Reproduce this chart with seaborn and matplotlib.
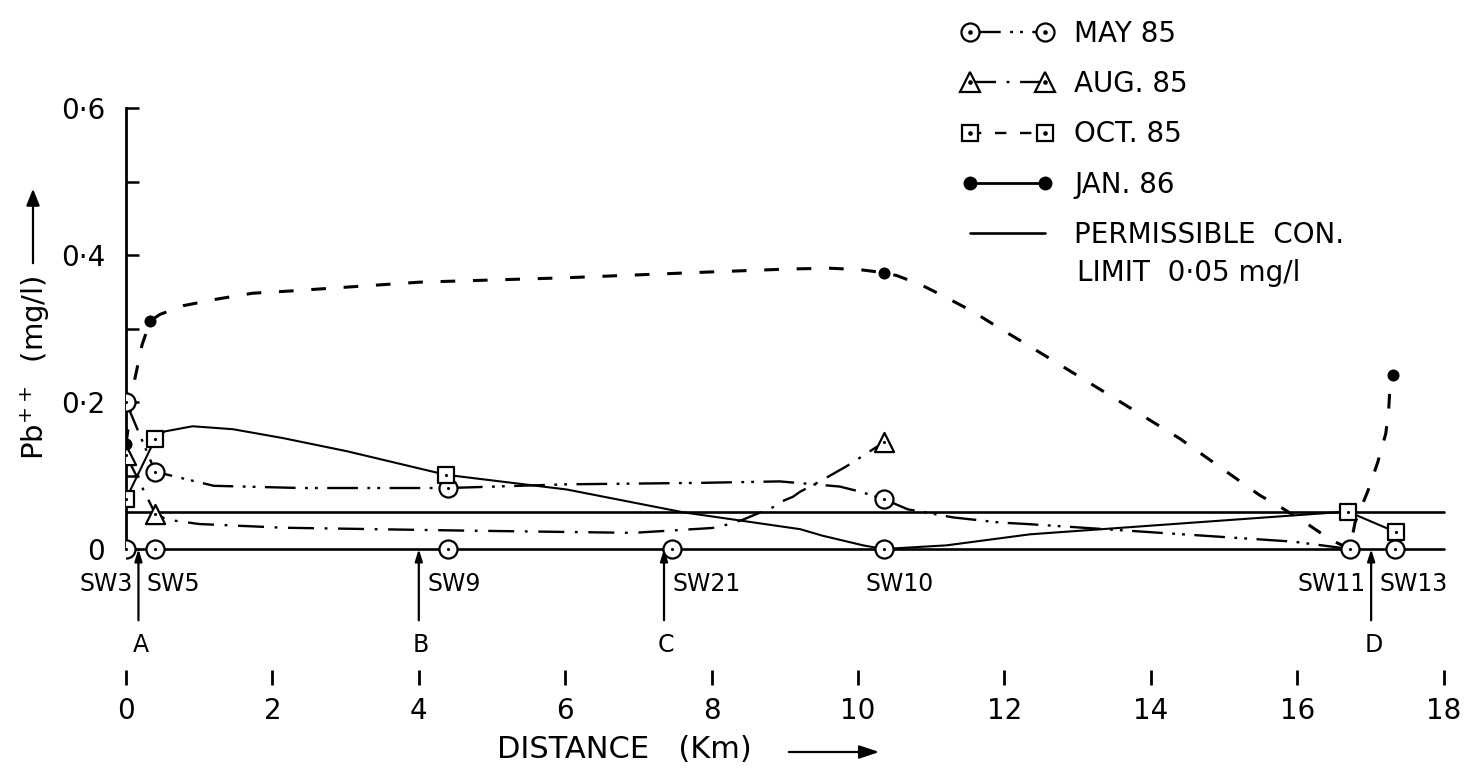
import matplotlib
matplotlib.use("Agg")
import matplotlib.pyplot as plt
import seaborn as sns
from matplotlib.lines import Line2D
from matplotlib.legend_handler import HandlerTuple

# ---------------- data ----------------
stations = ["SW3", "SW5", "SW9", "SW21", "SW10", "SW11", "SW13"]
station_km = [0.0, 0.4, 4.4, 7.46, 10.35, 16.72, 17.33]

arrow_letters = ["A", "B", "C", "D"]
arrow_km = [0.17, 4.0, 7.35, 17.01]

permissible_limit = 0.05
distance_extent = [0.0, 18.0]

# measured points (markers)
may_km = [0.0, 0.4, 4.4, 10.35]
may_val = [0.200, 0.105, 0.083, 0.068]
aug_km = [0.0, 0.4, 10.35]
aug_val = [0.128, 0.048, 0.145]
oct_km = [0.0, 0.4, 4.37, 16.69, 17.35]
oct_val = [0.068, 0.150, 0.101, 0.051, 0.023]
jan_km = [0.0, 0.33, 10.35, 17.31]
jan_val = [0.143, 0.310, 0.376, 0.237]

# hand-drawn curves
may_curve_km = [0.0, 0.4, 0.57, 1.2, 2.39, 4.4, 6.02, 7.84, 8.93, 9.75, 10.03,
                10.35, 10.68, 11.3, 11.94, 12.31, 15.35, 15.95, 16.72]
may_curve_val = [0.200, 0.105, 0.101, 0.086, 0.083, 0.083, 0.088, 0.090, 0.092,
                 0.085, 0.078, 0.068, 0.054, 0.043, 0.036, 0.034, 0.014, 0.010, 0.0]

aug_curve_km = [0.0, 0.4, 0.56, 0.78, 1.0, 1.46, 2.14, 4.66, 6.93, 8.07, 8.43,
                8.84, 8.94, 9.11, 9.21, 9.48, 9.85, 10.07, 10.35]
aug_curve_val = [0.128, 0.048, 0.040, 0.037, 0.034, 0.032, 0.029, 0.025, 0.022,
                 0.029, 0.040, 0.057, 0.064, 0.071, 0.078, 0.092, 0.113, 0.127, 0.145]

oct_curve_km = [0.0, 0.4, 0.53, 0.91, 1.46, 2.14, 3.02, 4.37, 6.02, 7.61, 9.21,
                9.52, 10.07, 10.35, 11.21, 12.35, 16.69, 17.35]
oct_curve_val = [0.068, 0.150, 0.160, 0.167, 0.163, 0.151, 0.133, 0.101, 0.081,
                 0.050, 0.027, 0.018, 0.005, 0.0, 0.005, 0.020, 0.051, 0.023]

jan_curve_km = [0.0, 0.12, 0.22, 0.33, 0.46, 0.78, 1.24, 1.73, 2.24, 2.68, 4.0,
                6.0, 8.0, 9.07, 9.62, 10.03, 10.35, 10.53, 10.85, 11.19, 11.57,
                11.94, 12.31, 13.31, 14.4, 15.49, 15.79, 16.17, 16.45, 16.72,
                16.79, 16.97, 17.1, 17.21, 17.25, 17.27, 17.31]
jan_curve_val = [0.143, 0.231, 0.278, 0.310, 0.319, 0.331, 0.340, 0.348, 0.351,
                 0.354, 0.363, 0.369, 0.377, 0.381, 0.382, 0.380, 0.376, 0.372,
                 0.360, 0.343, 0.323, 0.300, 0.278, 0.217, 0.150, 0.073, 0.056,
                 0.032, 0.013, 0.0, 0.036, 0.080, 0.118, 0.157, 0.190, 0.225, 0.237]

y_ticks = [0.0, 0.2, 0.4, 0.6]
y_tick_labels = ["0", "0\u00b72", "0\u00b74", "0\u00b76"]
y_minor = [0.1, 0.3, 0.5]
x_ticks = [0, 2, 4, 6, 8, 10, 12, 14, 16, 18]

legend_labels = ["MAY 85", "AUG. 85", "OCT. 85", "JAN. 86", "PERMISSIBLE  CON."]

# ---------------- styles ----------------
LS_MAY = (0, (13, 4, 1.2, 3, 1.2, 4))
LS_AUG = (0, (11, 4.5, 1.2, 4.5))
LS_DASH = (0, (4.8, 5.8))

sns.set_style("ticks")
K = "black"
plt.rcParams["font.family"] = ["DejaVu Sans"]
plt.rcParams["mathtext.fontset"] = "dejavusans"
plt.rcParams["text.color"] = K
plt.rcParams["axes.labelcolor"] = K
plt.rcParams["xtick.color"] = K
plt.rcParams["ytick.color"] = K
plt.rcParams["xtick.labelcolor"] = K
plt.rcParams["ytick.labelcolor"] = K

W, H = 1475, 779
fig = plt.figure(figsize=(W / 100, H / 100), dpi=100)
x0, x1 = 126, 1466
ytop, ybot = 108, 685
ax = fig.add_axes([x0 / W, 1 - ybot / H, (x1 - x0) / W, (ybot - ytop) / H])
ax.set_xlim(0, (x1 - x0) / 73.2)
ax.set_ylim(-0.185, 0.6)

# reference lines
sns.lineplot(x=distance_extent, y=[0, 0], ax=ax, color=K, lw=1.9,
             estimator=None, sort=False)
sns.lineplot(x=distance_extent, y=[permissible_limit] * 2, ax=ax, color=K,
             lw=1.9, estimator=None, sort=False)

# curves
sns.lineplot(x=may_curve_km, y=may_curve_val, ax=ax, color=K, lw=1.7,
             linestyle=LS_MAY, estimator=None, sort=False)
sns.lineplot(x=aug_curve_km, y=aug_curve_val, ax=ax, color=K, lw=1.7,
             linestyle=LS_AUG, estimator=None, sort=False)
sns.lineplot(x=oct_curve_km, y=oct_curve_val, ax=ax, color=K, lw=1.5,
             linestyle="-", estimator=None, sort=False)
sns.lineplot(x=jan_curve_km, y=jan_curve_val, ax=ax, color=K, lw=2.2,
             linestyle=LS_DASH, estimator=None, sort=False)

# station arrows
for xk in arrow_km:
    ax.annotate("", xy=(xk, 0.0), xytext=(xk, -0.097),
                arrowprops=dict(arrowstyle="-|>,head_length=0.7,head_width=0.22",
                                lw=1.6, color=K, shrinkA=0, shrinkB=0),
                annotation_clip=False, zorder=3)

# markers
def dotted(xs, ys, marker, s):
    sns.scatterplot(x=xs, y=ys, ax=ax, marker=marker, s=s, color="white",
                    edgecolor=K, linewidth=1.6, zorder=5, legend=False)
    sns.scatterplot(x=xs, y=ys, ax=ax, marker="o", s=5, color=K,
                    linewidth=0, zorder=6, legend=False)

dotted(station_km, [0.0] * len(station_km), "o", 169)
dotted(may_km, may_val, "o", 169)
dotted(aug_km, aug_val, "^", 190)
dotted(oct_km, oct_val, "s", 144)
sns.scatterplot(x=jan_km, y=jan_val, ax=ax, marker="o", s=75, color=K,
                linewidth=0, zorder=6, legend=False)

# station labels
label_pos = [(0.09, "right"), (0.28, "left"), (4.12, "left"), (7.47, "left"),
             (10.1, "left"), (16.93, "right"), (17.13, "left")]
for name, (xk, ha) in zip(stations, label_pos):
    ax.text(xk, -0.047, name, ha=ha, va="center", fontsize=17, color=K)
for letter, xk in zip(arrow_letters, arrow_km):
    ax.text(xk + 0.03, -0.13, letter, ha="center", va="center", fontsize=17,
            color=K)

# axes styling
for side in ["top", "right", "bottom"]:
    ax.spines[side].set_visible(False)
ax.spines["left"].set_bounds(0, 0.6)
ax.spines["left"].set_linewidth(2.0)
ax.spines["left"].set_color(K)
ax.set_yticks(y_ticks, labels=y_tick_labels)
ax.set_yticks(y_minor, minor=True)
ax.tick_params(axis="y", which="both", direction="in", length=9.5, width=1.8,
               color=K, labelcolor=K, labelsize=20, pad=15)
ax.set_xticks(x_ticks, labels=[str(t) for t in x_ticks])
ax.tick_params(axis="x", direction="in", length=11, width=2.0, color=K,
               labelcolor=K, labelsize=20, pad=8.5)
ax.set_xlabel("")
ax.set_ylabel("")
ax.grid(False)

# axis titles with arrows
fig.text(35 / W, 1 - 368 / H, "Pb$^{++}$  (mg/l)", rotation=90, ha="center",
         va="center", fontsize=21, color=K)
fig.add_artist(matplotlib.patches.FancyArrowPatch(
    (33 / W, 1 - 266 / H), (33 / W, 1 - 186 / H), transform=fig.transFigure,
    arrowstyle="-|>,head_length=10,head_width=4", lw=1.6, color=K,
    mutation_scale=1))
fig.text(497 / W, 1 - 750 / H, "DISTANCE   (Km)", ha="left", va="center",
         fontsize=22, color=K)
fig.add_artist(matplotlib.patches.FancyArrowPatch(
    (786 / W, 1 - 752 / H), (882 / W, 1 - 752 / H), transform=fig.transFigure,
    arrowstyle="-|>,head_length=12,head_width=4", lw=1.6, color=K,
    mutation_scale=1))

# legend (styles as drawn in the reference's key)
def dot():
    return Line2D([], [], ls="none", marker="o", ms=2.3, color=K)

h_may = (Line2D([], [], color=K, lw=1.7, ls=LS_MAY, marker="o", ms=13,
                mfc="white", mec=K, mew=1.6), dot())
h_aug = (Line2D([], [], color=K, lw=1.7, ls=LS_AUG, marker="^", ms=14,
                mfc="white", mec=K, mew=1.6), dot())
h_oct = (Line2D([], [], color=K, lw=1.7, ls=LS_DASH, marker="s", ms=12,
                mfc="white", mec=K, mew=1.6), dot())
h_jan = Line2D([], [], color=K, lw=2.0, ls="-", marker="o", ms=9, mfc=K, mec=K)
h_lim = Line2D([], [], color=K, lw=1.9, ls="-")
leg = ax.legend([h_may, h_aug, h_oct, h_jan, h_lim], legend_labels,
                loc="upper left", bbox_to_anchor=(962 / W, 1 - 20 / H),
                bbox_transform=fig.transFigure, frameon=False, fontsize=20,
                numpoints=2, handlelength=3.3, handletextpad=0.75,
                labelspacing=0.8, borderpad=0, borderaxespad=0, markerscale=1,
                handler_map={tuple: HandlerTuple(ndivide=1, pad=0)})
for t in leg.get_texts():
    t.set_color(K)
fig.text(1077 / W, 1 - 273 / H, "LIMIT  0\u00b705 mg/l", ha="left",
         va="center", fontsize=20, color=K)

fig.savefig("out.png", dpi=100, facecolor="white")
